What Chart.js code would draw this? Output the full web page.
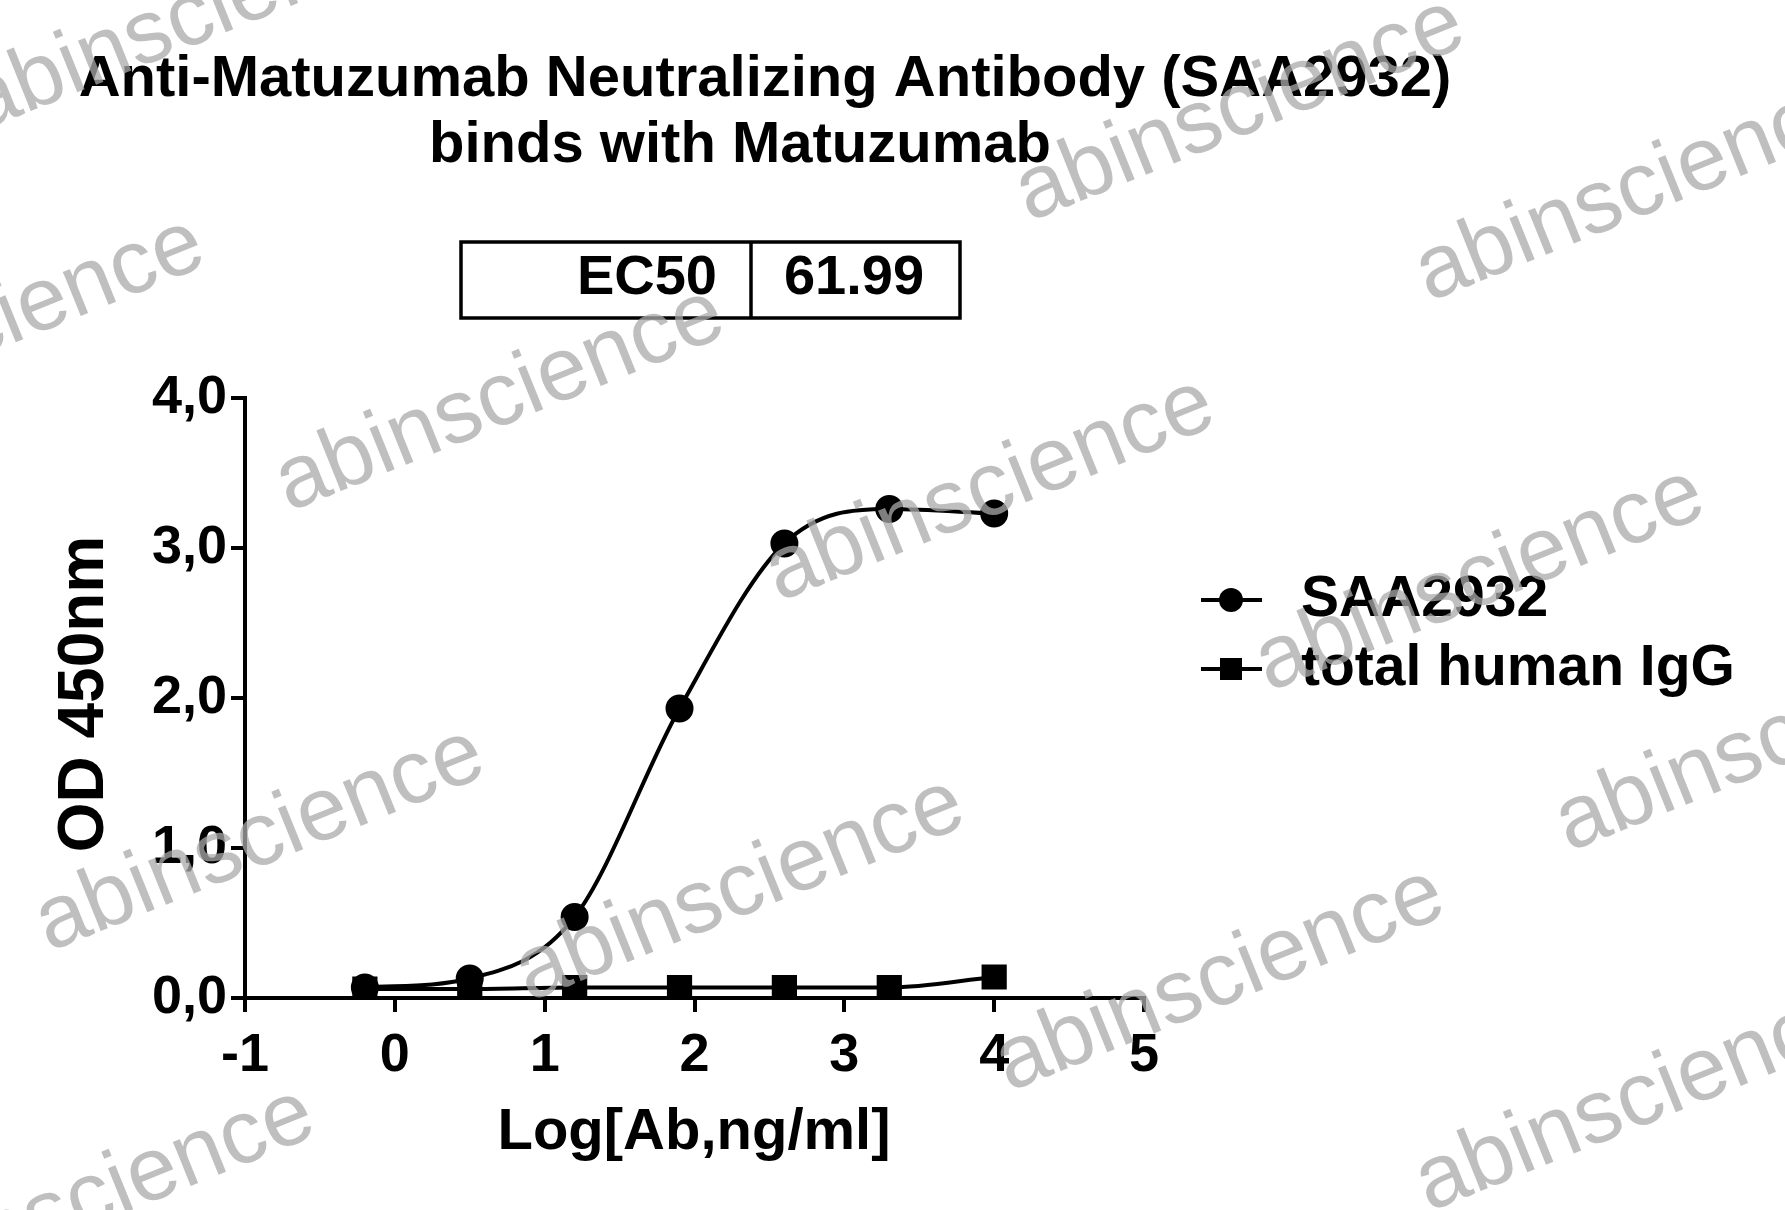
<!DOCTYPE html>
<html>
<head>
<meta charset="utf-8">
<script src="https://cdn.jsdelivr.net/npm/chart.js@4.4.0/dist/chart.umd.min.js"></script>
<style>
  html, body { margin: 0; padding: 0; background: #fff; }
  #wrap { width: 1785px; height: 1210px; position: relative; }
</style>
</head>
<body>
<div id="wrap"><canvas id="c"></canvas></div>
<script>
const logDose = [-0.2, 0.5, 1.2, 1.9, 2.6, 3.3, 4.0];
const saa2932 = [0.07, 0.13, 0.54, 1.93, 3.03, 3.26, 3.23];
const humanIgG = [0.06, 0.06, 0.07, 0.07, 0.07, 0.07, 0.14];
const yTicks = [0, 1, 2, 3, 4];
const xTicks = [-1, 0, 1, 2, 3, 4, 5];
const titleLines = ['Anti-Matuzumab Neutralizing Antibody (SAA2932)', 'binds with Matuzumab'];
const ec50 = '61.99';

const FONT = "'Liberation Sans', Arial, sans-serif";
const toPts = (xs, ys) => xs.map((x, i) => ({ x, y: ys[i] }));

const watermarks = [
  [190, 20], [1240, 110], [1640, 190], [500, 400], [990, 490], [1480, 580],
  [260, 840], [740, 890], [1220, 980], [1640, 1100], [-20, 330], [1780, 740],
  [90, 1200]
];

const overlay = {
  id: 'overlay',
  afterDraw(chart) {
    const ctx = chart.ctx;
    ctx.save();
    ctx.fillStyle = '#000';
    ctx.textBaseline = 'middle';
    ctx.textAlign = 'center';
    ctx.font = 'bold 58px ' + FONT;
    ctx.fillText(titleLines[0], 765, 80);
    ctx.fillText(titleLines[1], 740, 146);

    // EC50 box
    ctx.lineWidth = 3.5;
    ctx.strokeStyle = '#000';
    ctx.strokeRect(461, 242, 499, 76);
    ctx.beginPath(); ctx.moveTo(751, 242); ctx.lineTo(751, 318); ctx.stroke();
    ctx.font = 'bold 56px ' + FONT;
    ctx.textAlign = 'right';
    ctx.fillText('EC50', 717, 279);
    ctx.textAlign = 'center';
    ctx.fillText(ec50, 854, 279);

    // axis titles
    ctx.font = 'bold 58px ' + FONT;
    ctx.fillText('Log[Ab,ng/ml]', 694, 1133);
    ctx.save();
    ctx.font = 'bold 64px ' + FONT;
    ctx.translate(85, 694);
    ctx.rotate(-Math.PI / 2);
    ctx.fillText('OD 450nm', 0, 0);
    ctx.restore();

    // legend
    const rows = [
      { y: 600, label: 'SAA2932', style: 'circle' },
      { y: 669, label: 'total human IgG', style: 'rect' }
    ];
    ctx.font = 'bold 57px ' + FONT;
    ctx.textAlign = 'left';
    rows.forEach(r => {
      ctx.lineWidth = 4;
      ctx.beginPath(); ctx.moveTo(1201, r.y); ctx.lineTo(1262, r.y); ctx.stroke();
      ctx.beginPath();
      if (r.style === 'circle') { ctx.arc(1231, r.y, 12, 0, Math.PI * 2); ctx.fill(); }
      else ctx.fillRect(1220, r.y - 11, 22, 22);
      ctx.fillText(r.label, 1301, r.y);
    });

    // watermark
    ctx.font = '90px ' + FONT;
    ctx.fillStyle = 'rgba(170,170,170,0.75)';
    ctx.textAlign = 'center';
    watermarks.forEach(([x, y]) => {
      ctx.save();
      ctx.translate(x, y);
      ctx.rotate(-22 * Math.PI / 180);
      ctx.fillText('abinscience', 0, 0);
      ctx.restore();
    });
    ctx.restore();
  }
};

new Chart(document.getElementById('c'), {
  type: 'line',
  data: {
    datasets: [
      {
        label: 'SAA2932',
        data: toPts(logDose, saa2932),
        borderColor: '#000', backgroundColor: '#000',
        borderWidth: 4, pointStyle: 'circle', pointRadius: 12,
        cubicInterpolationMode: 'monotone'
      },
      {
        label: 'total human IgG',
        data: toPts(logDose, humanIgG),
        borderColor: '#000', backgroundColor: '#000',
        borderWidth: 4, pointStyle: 'rect', pointRadius: 15,
        cubicInterpolationMode: 'monotone'
      }
    ]
  },
  options: {
    responsive: true,
    maintainAspectRatio: false,
    animation: false,
    layout: { padding: { top: 398, right: 641, left: 0, bottom: 0 } },
    plugins: { legend: { display: false }, tooltip: { enabled: false }, title: { display: false } },
    scales: {
      x: {
        type: 'linear', min: -1, max: 5,
        afterBuildTicks: s => { s.ticks = xTicks.map(v => ({ value: v })); },
        afterFit: s => { s.height = 212; },
        grid: { drawOnChartArea: false, tickLength: 14, lineWidth: 4, color: '#000' },
        border: { color: '#000', width: 4 },
        ticks: { color: '#000', font: { family: FONT, weight: 'bold', size: 54 }, padding: 12, maxRotation: 0 }
      },
      y: {
        type: 'linear', min: 0, max: 4,
        afterBuildTicks: s => { s.ticks = yTicks.map(v => ({ value: v })); },
        afterFit: s => { s.width = 245; },
        grid: { drawOnChartArea: false, tickLength: 14, lineWidth: 4, color: '#000' },
        border: { color: '#000', width: 4 },
        ticks: {
          color: '#000', font: { family: FONT, weight: 'bold', size: 54 }, padding: 4,
          callback: v => v.toFixed(1).replace('.', ',')
        }
      }
    }
  },
  plugins: [overlay]
});
</script>
</body>
</html>
